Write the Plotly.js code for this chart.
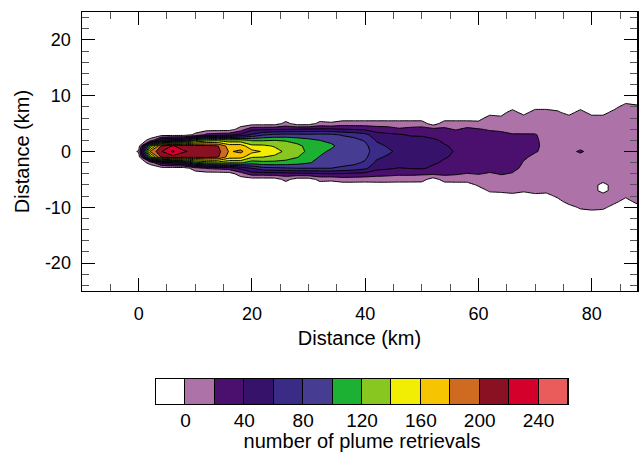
<!DOCTYPE html>
<html><head><meta charset="utf-8">
<script src="https://cdn.plot.ly/plotly-3.0.1.min.js"></script>
<style>html,body{margin:0;padding:0;background:#fff;} #chart{width:640px;height:452px;}</style>
</head><body><div id="chart"></div>
<script>
// ---- data ----
const N = -10; // grid cell without retrievals (below the 0 level)
const xKm = [-2,0,2,4,6,8,10,12,14,16,18,20,22,24,26,28,30,32,34,36,38,40,42,44,46,48,50,52,54,56,58,60,62,64,66,68,70,72,74,76,78,80,82,84,86,88];
const yKmTopDown = [10,9,8,7,6,5,4,3,2,1,0,-1,-2,-3,-4,-5,-6,-7,-8,-9,-10,-11];
// one column per xKm value, listed from y = 10 km down to y = -11 km
const retrievalColumns = [
  [N,N,N,N,N,N,N,N,N,N,N,N,N,N,N,N,N,N,N,N,N,N],            // -2
  [N,N,N,N,N,N,N,N,N,N,2,N,N,N,N,N,N,N,N,N,N,N],            // 0
  [N,N,N,N,N,N,N,N,5,120,180,120,5,N,N,N,N,N,N,N,N,N],      // 2
  [N,N,N,N,N,N,N,N,60,203,218,203,50,N,N,N,N,N,N,N,N,N],    // 4
  [N,N,N,N,N,N,N,N,70,222,243,212,60,N,N,N,N,N,N,N,N,N],    // 6
  [N,N,N,N,N,N,N,N,75,210,222,208,70,N,N,N,N,N,N,N,N,N],    // 8
  [N,N,N,N,N,N,N,4,115,207,215,205,110,10,N,N,N,N,N,N,N,N], // 10
  [N,N,N,N,N,N,N,25,130,206,212,206,125,22,N,N,N,N,N,N,N,N],// 12
  [N,N,N,N,N,N,N,30,135,201,207,202,130,25,N,N,N,N,N,N,N,N],// 14
  [N,N,N,N,N,N,N,32,128,170,178,170,122,30,N,N,N,N,N,N,N,N],// 16
  [N,N,N,N,N,N,8,45,128,170,184,168,124,45,10,N,N,N,N,N,N,N],   // 18
  [N,N,N,N,N,N,35,62,118,145,166,142,110,60,30,N,N,N,N,N,N,N],  // 20
  [N,N,N,N,N,N,36,78,118,144,158,140,114,74,30,N,N,N,N,N,N,N],  // 22
  [N,N,N,N,N,N,37,84,120,138,148,136,114,76,31,N,N,N,N,N,N,N],  // 24
  [N,N,N,N,N,6,38,86,118,132,136,130,112,78,32,6,N,N,N,N,N,N],  // 26
  [N,N,N,N,N,N,40,85,112,125,128,121,108,80,35,N,N,N,N,N,N,N],  // 28
  [N,N,N,N,N,N,42,84,106,114,116,110,102,80,36,N,N,N,N,N,N,N],  // 30
  [N,N,N,N,N,6,42,86,100,108,104,99,94,80,38,6,N,N,N,N,N,N],    // 32
  [N,N,N,N,N,3,42,84,96,103,97,94,91,80,40,4,N,N,N,N,N,N],      // 34
  [N,N,N,N,N,10,40,78,90,94,92,91,88,76,38,10,N,N,N,N,N,N],     // 36
  [N,N,N,N,N,10,38,74,86,90,90,88,85,72,36,10,N,N,N,N,N,N],     // 38
  [N,N,N,N,N,10,36,66,78,85,87,84,77,64,34,9,N,N,N,N,N,N],      // 40
  [N,N,N,N,N,10,30,48,58,66,70,64,56,46,28,10,N,N,N,N,N,N],     // 42
  [N,N,N,N,N,10,28,44,47,58,64,57,51,43,26,10,N,N,N,N,N,N],     // 44
  [N,N,N,N,N,10,22,42,50,54,55,54,50,39,24,9,N,N,N,N,N,N],      // 46
  [N,N,N,N,N,10,25,38,47,50,52,51,48,41,24,9,N,N,N,N,N,N],      // 48
  [N,N,N,N,N,10,27,38,45,48,50,49,46,42,23,8,N,N,N,N,N,N],      // 50
  [N,N,N,N,N,N,25,36,42,45,46,45,42,37,24,N,N,N,N,N,N,N],       // 52
  [N,N,N,N,N,10,24,35,38,41,43,41,38,35,24,9,N,N,N,N,N,N],      // 54
  [N,N,N,N,N,10,18,32,36,38,39,38,36,32,22,10,N,N,N,N,N,N],     // 56
  [N,N,N,N,N,10,24,30,34,36,37,36,34,30,19,10,N,N,N,N,N,N],     // 58
  [N,N,N,N,N,8,21,29,33,35,36,35,33,29,21,10,3,N,N,N,N,N],      // 60
  [N,N,N,N,10,14,18,26,31,33,34,33,31,26,18,14,12,3,N,N,N,N],   // 62
  [N,N,N,N,5,14,17,24,30,32,33,32,30,26,21,15,13,5,N,N,N,N],    // 64
  [N,N,N,10,12,13,15,21,28,30,31,30,28,24,19,15,13,10,N,N,N,N], // 66
  [N,N,N,N,12,13,15,21,24,26,25,22,19,17,15,14,12,3,N,N,N,N],   // 68
  [N,N,N,12,13,13,14,21,22,22,21,17,16,15,15,14,13,12,N,N,N,N], // 70
  [N,N,N,12,13,14,14,15,16,17,17,16,15,15,14,14,13,8,N,N,N,N],  // 72
  [N,N,N,4,12,13,14,15,15,16,16,15,15,14,14,13,14,14,5,N,N,N],  // 74
  [N,N,N,N,10,13,14,14,15,15,16,15,15,14,14,13,13,12,12,10,N,N],// 76
  [N,N,N,10,12,13,14,14,15,15,22,15,14,14,13,13,12,12,12,12,4,N],// 78
  [N,N,N,N,10,12,13,13,14,14,15,14,14,13,13,12,12,12,12,12,10,N],// 80
  [N,N,N,N,10,12,13,13,14,14,14,14,13,13,12,12,N,N,12,12,6,N],  // 82
  [N,N,N,10,12,13,13,13,14,14,14,14,13,13,12,12,12,12,12,6,N,N],// 84
  [N,N,15,14,13,13,13,14,14,14,14,13,13,13,12,12,12,12,4,N,N,N],// 86
  [N,N,5,13,13,13,13,13,14,14,14,13,13,13,12,12,12,12,12,6,N,N] // 88
];
const levelStart = 0, levelEnd = 240, levelStep = 20;
const bandColors = ['#FFFFFF','#AD73A8','#4B0F6E','#36126A','#3A2B86','#463C91','#1CB132',
                    '#88C71F','#F2EE03','#F6C400','#CE6B20','#891122','#D4002B','#EA5B5B'];
const bandMids = [-10,10,30,50,70,90,110,130,150,170,190,210,230,250];
const cbTickVals = [0,40,80,120,160,200,240];
const cbTickText = ['0','40','80','120','160','200','240'];
const yTickVals = [-20,-10,0,10,20];
const yTickText = ['-20','-10','0','10','20'];
const xTickVals = [0,20,40,60,80];
const xTickText = ['0','20','40','60','80'];

// ---- build ----
const colorscale = bandColors.map((c, i) => [i / (bandColors.length - 1), c]);
const yAsc = yKmTopDown.slice().reverse();
const zCols = retrievalColumns.map(c => c.slice().reverse());
const FONT = 'Liberation Sans, Arial, Helvetica, sans-serif';

const traces = [
  {
    type: 'contour', x: xKm, y: yAsc, z: zCols, transpose: true,
    autocontour: false,
    contours: {start: levelStart, end: levelEnd, size: levelStep, coloring: 'fill', showlines: true},
    line: {color: 'black', width: 1, smoothing: 0},
    colorscale: colorscale, showscale: false, hoverinfo: 'skip',
    xaxis: 'x', yaxis: 'y'
  },
  {
    type: 'heatmap', x: bandMids, y: [0.5], z: [bandMids],
    colorscale: colorscale, zmin: bandMids[0], zmax: bandMids[bandMids.length - 1],
    showscale: false, xgap: 1, hoverinfo: 'skip', xaxis: 'x2', yaxis: 'y2'
  }
];

const layout = {
  width: 640, height: 452,
  margin: {l: 82, r: 3, t: 12, b: 48, pad: 0},
  paper_bgcolor: 'white', plot_bgcolor: 'white',
  showlegend: false,
  font: {family: FONT, size: 18, color: 'black'},
  xaxis: {
    domain: [0, 1], anchor: 'y', range: [-10, 88],
    tickmode: 'array', tickvals: xTickVals, ticktext: xTickText,
    ticks: 'inside', ticklen: 13, tickwidth: 1, tickcolor: 'black',
    minor: {dtick: 5, tick0: 0, ticks: 'inside', ticklen: 7, tickwidth: 1, tickcolor: '#555'},
    showline: true, linecolor: 'black', linewidth: 1.5, mirror: 'allticks',
    showgrid: false, zeroline: false, ticklabelstandoff: 6,
    tickfont: {size: 18},
    title: {text: 'Distance (km)', font: {size: 20}, standoff: 8}
  },
  yaxis: {
    domain: [0.28827, 1], anchor: 'x', range: [-25, 25],
    tickmode: 'array', tickvals: yTickVals, ticktext: yTickText,
    ticks: 'inside', ticklen: 13, tickwidth: 1, tickcolor: 'black',
    minor: {dtick: 2, tick0: 0, ticks: 'inside', ticklen: 7, tickwidth: 1, tickcolor: '#555'},
    showline: true, linecolor: 'black', linewidth: 1.5, mirror: 'allticks',
    showgrid: false, zeroline: false, ticklabelstandoff: 6,
    tickfont: {size: 18},
    title: {text: 'Distance (km)', font: {size: 20}, standoff: 10}
  },
  xaxis2: {
    domain: [0.13333, 0.87568], anchor: 'y2', range: [-20, 260],
    tickmode: 'array', tickvals: cbTickVals, ticktext: cbTickText,
    ticks: '', ticklabelstandoff: -1,
    showline: true, linecolor: 'black', linewidth: 1, mirror: true,
    showgrid: false, zeroline: false, tickfont: {size: 19},
    title: {text: 'number of plume retrievals', font: {size: 20}, standoff: 9}
  },
  yaxis2: {
    domain: [0, 0.0638], anchor: 'x2', range: [0, 1],
    showticklabels: false, ticks: '', showline: true, linecolor: 'black', linewidth: 1,
    mirror: true, showgrid: false, zeroline: false
  },
  shapes: [{type: 'rect', xref: 'x2 domain', yref: 'y2 domain', x0: 0, x1: 1, y0: 0, y1: 1,
            fillcolor: 'black', line: {width: 0}, layer: 'below'}]
};

Plotly.newPlot('chart', traces, layout, {staticPlot: true, displayModeBar: false});
</script>
</body></html>
